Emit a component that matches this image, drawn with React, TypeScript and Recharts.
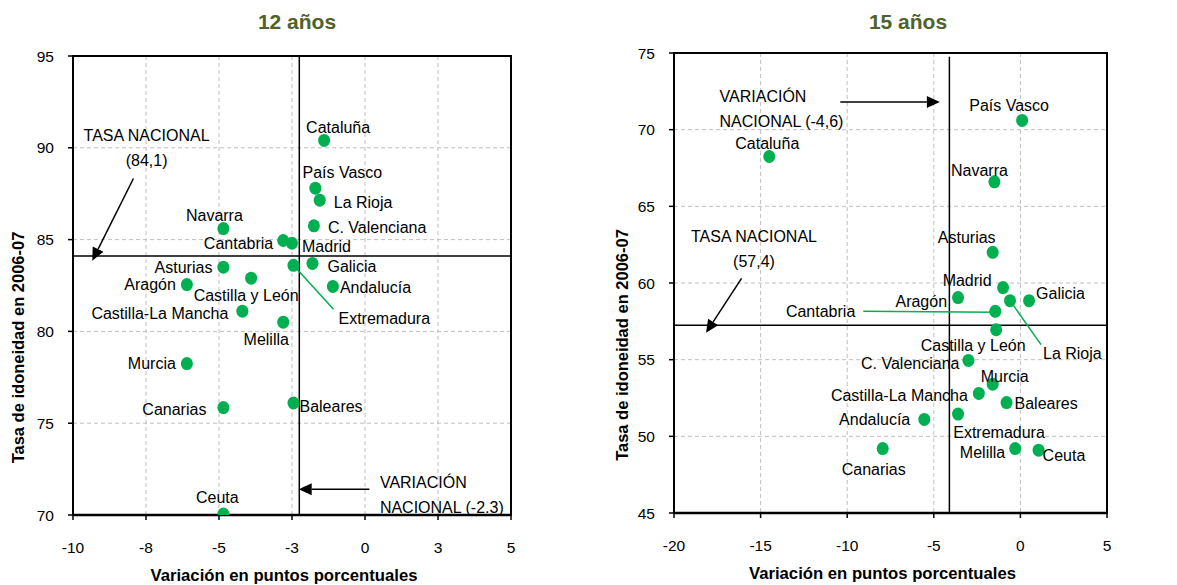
import {
  ScatterChart,
  Scatter,
  XAxis,
  YAxis,
  CartesianGrid,
  ReferenceLine,
  ReferenceArea,
  ReferenceDot,
} from 'recharts'

// 12 años
const regions12 = [
  'Cataluña', 'País Vasco', 'La Rioja', 'C. Valenciana', 'Navarra', 'Cantabria', 'Madrid',
  'Asturias', 'Extremadura', 'Galicia', 'Castilla y León', 'Aragón', 'Andalucía',
  'Castilla-La Mancha', 'Melilla', 'Murcia', 'Canarias', 'Baleares', 'Ceuta',
]
const variacion12 = [-1.4, -1.7, -1.55, -1.75, -4.85, -2.8, -2.5, -4.85, -2.45, -1.8, -3.9, -6.1, -1.1, -4.2, -2.8, -6.1, -4.85, -2.45, -4.85]
const tasa12 = [90.4, 87.8, 87.15, 85.75, 85.6, 84.95, 84.8, 83.5, 83.6, 83.7, 82.9, 82.55, 82.45, 81.1, 80.5, 78.25, 75.85, 76.1, 70.05]

// 15 años
const regions15 = [
  'País Vasco', 'Cataluña', 'Navarra', 'Asturias', 'Madrid', 'Aragón', 'La Rioja', 'Galicia',
  'Cantabria', 'Castilla y León', 'C. Valenciana', 'Murcia', 'Castilla-La Mancha', 'Baleares',
  'Extremadura', 'Andalucía', 'Canarias', 'Melilla', 'Ceuta',
]
const variacion15 = [0.1, -14.5, -1.5, -1.6, -1.0, -3.6, -0.6, 0.5, -1.45, -1.4, -3.0, -1.6, -2.4, -0.8, -3.6, -5.55, -7.95, -0.3, 1.05]
const tasa15 = [70.6, 68.25, 66.6, 62.0, 59.7, 59.05, 58.85, 58.85, 58.15, 56.95, 54.95, 53.4, 52.8, 52.2, 51.45, 51.1, 49.2, 49.2, 49.1]

const xTicks12 = [-10, -7.5, -5, -2.5, 0, 2.5, 5]
const yTicks12 = [70, 75, 80, 85, 90, 95]
const xTicks15 = [-20, -15, -10, -5, 0, 5]
const yTicks15 = [45, 50, 55, 60, 65, 70, 75]

const nacional12 = { tasa: 84.1, variacion: -2.25 }
const nacional15 = { tasa: 57.25, variacion: -4.1 }

const GREEN = '#00B050'
const FONT = '"Liberation Sans", Arial, sans-serif'

type Anchor = 'start' | 'middle' | 'end'

// label offsets from the dot centre, in px
const labels12: Record<string, [number, number, Anchor]> = {
  'Cataluña': [14, -13, 'middle'],
  'País Vasco': [27, -16, 'middle'],
  'La Rioja': [14, 2, 'start'],
  'C. Valenciana': [14, 2, 'start'],
  'Navarra': [-9, -13, 'middle'],
  'Cantabria': [-10, 3, 'end'],
  'Madrid': [10, 3, 'start'],
  'Asturias': [-11, 0, 'end'],
  'Extremadura': [45, 53, 'start'],
  'Galicia': [15, 3, 'start'],
  'Castilla y León': [-5, 17, 'middle'],
  'Aragón': [-11, 0, 'end'],
  'Andalucía': [7, 1, 'start'],
  'Castilla-La Mancha': [-14, 2, 'end'],
  'Melilla': [-17, 17, 'middle'],
  'Murcia': [-11, 0, 'end'],
  'Canarias': [-17, 2, 'end'],
  'Baleares': [6, 3, 'start'],
  'Ceuta': [-6, -17, 'middle'],
}
const leaders12: Record<string, number[]> = {
  'Extremadura': [0, 0, 40, 44],
}

const labels15: Record<string, [number, number, Anchor]> = {
  'País Vasco': [-13, -15, 'middle'],
  'Cataluña': [-2, -13, 'middle'],
  'Navarra': [-15, -11, 'middle'],
  'Asturias': [-26, -15, 'middle'],
  'Madrid': [-36, -7, 'middle'],
  'Aragón': [-11, 4, 'end'],
  'La Rioja': [33, 53, 'start'],
  'Galicia': [7, -7, 'start'],
  'Cantabria': [-140, 0, 'end'],
  'Castilla y León': [-23, 16, 'middle'],
  'C. Valenciana': [-9, 3, 'end'],
  'Murcia': [12, -8, 'middle'],
  'Castilla-La Mancha': [-11, 2, 'end'],
  'Baleares': [8, 1, 'start'],
  'Extremadura': [41, 18, 'middle'],
  'Andalucía': [-14, 0, 'end'],
  'Canarias': [-9, 21, 'middle'],
  'Melilla': [-10, 4, 'end'],
  'Ceuta': [4, 5, 'start'],
}
const leaders15: Record<string, number[]> = {
  'La Rioja': [0, 0, 31, 44],
  'Cantabria': [-132, 0, 0, 1],
}

type Note = { x: number; y: number; lines: string[]; anchor: Anchor }
const notes12: Note[] = [
  { x: -7.48, y: 90.69, lines: ['TASA NACIONAL', '(84,1)'], anchor: 'middle' },
  { x: 0.51, y: 71.79, lines: ['VARIACIÓN', 'NACIONAL (-2.3)'], anchor: 'start' },
]
const arrows12 = [
  [{ x: -7.93, y: 88.33 }, { x: -9.34, y: 83.85 }],
  [{ x: 0.15, y: 71.4 }, { x: -2.27, y: 71.4 }],
]
const notes15: Note[] = [
  { x: -17.37, y: 72.17, lines: ['VARIACIÓN', 'NACIONAL (-4,6)'], anchor: 'start' },
  { x: -15.38, y: 63.04, lines: ['TASA NACIONAL', '(57,4)'], anchor: 'middle' },
]
const arrows15 = [
  [{ x: -10.4, y: 71.8 }, { x: -4.65, y: 71.8 }],
  [{ x: -16.1, y: 60.3 }, { x: -18.15, y: 56.75 }],
]

// Excel style rounding of tick labels (-7.5 -> -8)
const fmtTick = (v: number) => String(Math.sign(v) * Math.round(Math.abs(v)))

const dotShape = (p: any) => <ellipse cx={p.cx} cy={p.cy} rx={6} ry={6.5} fill={GREEN} />

const makeLabelShape = (labels: Record<string, [number, number, Anchor]>, leaders: Record<string, number[]>) =>
  (p: any) => {
    const name = p.payload.name
    const [dx, dy, anchor] = labels[name]
    const l = leaders[name]
    return (
      <g>
        {l && (
          <line x1={p.cx + l[0]} y1={p.cy + l[1]} x2={p.cx + l[2]} y2={p.cy + l[3]} stroke={GREEN} strokeWidth={1.5} />
        )}
        <text x={p.cx + dx} y={p.cy + dy} textAnchor={anchor} dominantBaseline="central" fontSize={16} fontFamily={FONT} fill="#000">
          {name}
        </text>
      </g>
    )
  }

const arrowShape = (p: any) => {
  const { x1, y1, x2, y2 } = p
  const a = Math.atan2(y2 - y1, x2 - x1)
  const len = 13
  const half = 6
  const bx = x2 - len * Math.cos(a)
  const by = y2 - len * Math.sin(a)
  const px = -Math.sin(a) * half
  const py = Math.cos(a) * half
  return (
    <g>
      <line x1={x1} y1={y1} x2={bx} y2={by} stroke="#000" strokeWidth={1.5} />
      <polygon points={`${x2},${y2} ${bx + px},${by + py} ${bx - px},${by - py}`} fill="#000" />
    </g>
  )
}

const noteContent = (n: Note) => (p: any) => {
  const { x, y } = p.viewBox
  return (
    <text textAnchor={n.anchor} fontSize={16} fontFamily={FONT} fill="#000" dominantBaseline="central">
      {n.lines.map((line, i) => (
        <tspan key={i} x={x} y={y + i * 25}>{line}</tspan>
      ))}
    </text>
  )
}

interface PanelProps {
  title: string
  left: number
  width: number
  margin: { top: number; right: number; bottom: number; left: number }
  yWidth: number
  xHeight: number
  names: string[]
  xs: number[]
  ys: number[]
  xTicks: number[]
  yTicks: number[]
  nacional: { tasa: number; variacion: number }
  vTop: number
  notes: Note[]
  arrows: { x: number; y: number }[][]
  labels: Record<string, [number, number, Anchor]>
  leaders: Record<string, number[]>
  titleX: number
}

function Panel(props: PanelProps) {
  const data = props.names.map((name, i) => ({ name, x: props.xs[i], y: props.ys[i] }))
  const xMin = props.xTicks[0]
  const xMax = props.xTicks[props.xTicks.length - 1]
  const yMin = props.yTicks[0]
  const yMax = props.yTicks[props.yTicks.length - 1]
  const tickStyle = { fontSize: 15.5, fontFamily: FONT, fill: '#000' }
  return (
    <div style={{ position: 'absolute', left: props.left, top: 0, width: props.width, height: 585 }}>
      <div
        style={{
          position: 'absolute', left: props.titleX - 100, width: 200, top: 10, textAlign: 'center',
          fontFamily: FONT, fontWeight: 'bold', fontSize: 21, color: '#4F6228',
        }}
      >
        {props.title}
      </div>
      <ScatterChart width={props.width} height={585} margin={props.margin}>
        <CartesianGrid stroke="#BFBFBF" strokeDasharray="4 3" />
        <XAxis
          type="number"
          dataKey="x"
          domain={[xMin, xMax]}
          ticks={props.xTicks}
          tickFormatter={fmtTick}
          height={props.xHeight}
          axisLine={{ stroke: '#000', strokeWidth: 2.5 }}
          tickLine={{ stroke: '#000', strokeWidth: 1.5 }}
          tickSize={5}
          tickMargin={22}
          tick={tickStyle}
          allowDataOverflow
          label={{
            content: (p: any) => {
              const vb = p.viewBox
              return (
                <text x={vb.x + vb.width / 2 - 8} y={vb.y + 60} textAnchor="middle" dominantBaseline="central"
                  fontSize={16.7} fontWeight="bold" fontFamily={FONT} fill="#000">
                  Variación en puntos porcentuales
                </text>
              )
            },
          }}
        />
        <YAxis
          type="number"
          dataKey="y"
          domain={[yMin, yMax]}
          ticks={props.yTicks}
          width={props.yWidth}
          axisLine={{ stroke: '#000', strokeWidth: 2 }}
          tickLine={{ stroke: '#000', strokeWidth: 1.5 }}
          tickSize={5}
          tickMargin={14}
          tick={tickStyle}
          allowDataOverflow
          label={{
            content: (p: any) => {
              const vb = p.viewBox
              const cx = vb.x + (props.yWidth > 80 ? 32 : 18)
              const cy = vb.y + vb.height / 2 + 62
              return (
                <text x={cx} y={cy} transform={`rotate(-90 ${cx} ${cy})`} textAnchor="middle" dominantBaseline="central"
                  fontSize={16.5} fontWeight="bold" fontFamily={FONT} fill="#000">
                  Tasa de idoneidad en 2006-07
                </text>
              )
            },
          }}
        />
        <ReferenceArea x1={xMin} x2={xMax} y1={yMin} y2={yMax} fill="none" fillOpacity={0} stroke="#000" strokeWidth={2} />
        <ReferenceLine y={props.nacional.tasa} stroke="#000" strokeWidth={1.5} />
        <ReferenceLine
          segment={[{ x: props.nacional.variacion, y: props.vTop }, { x: props.nacional.variacion, y: yMin }]}
          stroke="#000"
          strokeWidth={1.5}
        />
        {props.arrows.map((seg, i) => (
          <ReferenceLine key={'a' + i} segment={seg} shape={arrowShape} />
        ))}
        {props.notes.map((n, i) => (
          <ReferenceDot key={'n' + i} x={n.x} y={n.y} r={0} fill="none" stroke="none" label={{ content: noteContent(n) }} />
        ))}
        <Scatter data={data} shape={dotShape} isAnimationActive={false} />
        <Scatter data={data} shape={makeLabelShape(props.labels, props.leaders)} isAnimationActive={false} />
      </ScatterChart>
    </div>
  )
}

export default function App() {
  return (
    <div style={{ position: 'absolute', left: 0, top: 0, width: 1177, height: 585, background: '#fff' }}>
      <Panel
        title="12 años"
        left={0}
        width={590}
        margin={{ top: 56, right: 79, bottom: 0, left: 0 }}
        yWidth={73}
        xHeight={70}
        names={regions12}
        xs={variacion12}
        ys={tasa12}
        xTicks={xTicks12}
        yTicks={yTicks12}
        nacional={nacional12}
        vTop={95}
        notes={notes12}
        arrows={arrows12}
        labels={labels12}
        leaders={leaders12}
        titleX={297}
      />
      <Panel
        title="15 años"
        left={590}
        width={587}
        margin={{ top: 53, right: 70, bottom: 0, left: 0 }}
        yWidth={84}
        xHeight={72}
        names={regions15}
        xs={variacion15}
        ys={tasa15}
        xTicks={xTicks15}
        yTicks={yTicks15}
        nacional={nacional15}
        vTop={74.75}
        notes={notes15}
        arrows={arrows15}
        labels={labels15}
        leaders={leaders15}
        titleX={318}
      />
    </div>
  )
}
